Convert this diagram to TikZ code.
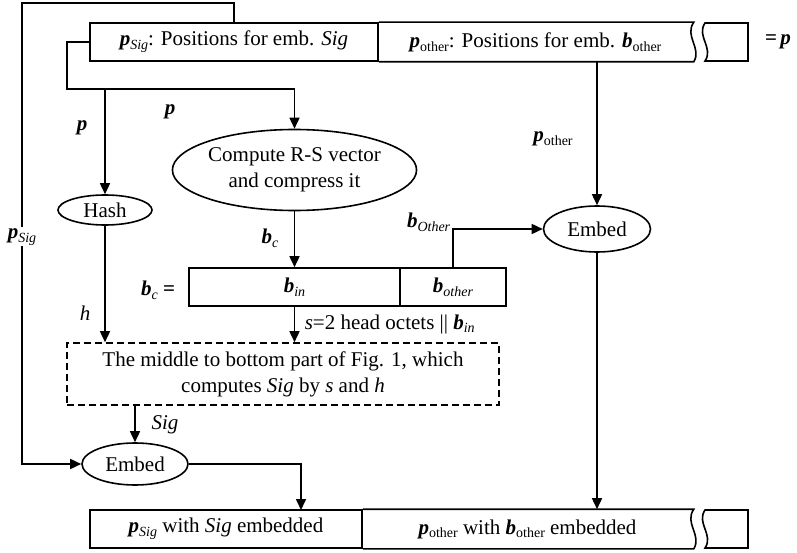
\documentclass[tikz,border=0pt]{standalone}
\usepackage{fontspec}
\setmainfont{Liberation Serif}
\usetikzlibrary{arrows.meta,shapes.geometric}

\newcommand\bp{\textbf{\textit{p}}}
\newcommand\bb{\textbf{\textit{b}}}
\newcommand\sub[1]{\raisebox{-0.4ex}{\fontsize{14}{14}\selectfont #1}}

\tikzset{
  cell/.style={draw, rectangle, minimum height=38pt, inner sep=0pt},
  proc/.style={draw, ellipse, inner sep=0pt, align=center},
  lbl/.style={inner sep=1pt},
  flow/.style={-{Triangle[length=11pt,width=10pt]}},
}

\begin{document}
\begin{tikzpicture}[x=1pt, y=-1pt, line width=1.6pt, font=\fontsize{21}{26}\selectfont]
\useasboundingbox (0,0) rectangle (797,553);

% top bar: positions p
\node[cell, minimum width=288pt] (psig) at (234,42) {\bp\sub{\textit{Sig}}: Positions for emb. \textit{Sig}};
\node[cell, draw=none, minimum width=315pt] (pother) at (535.5,42) {\bp\sub{other}: Positions for emb. \bb\sub{other}};
\draw (psig.north east) -- (pother.north east) .. controls (684,36) and (702,48) .. (pother.south east) -- (psig.south east);
\draw (705,23) -- (748,23) -- (748,61) -- (705,61) .. controls (714,48) and (696,36) .. cycle;
\node (eqp) at (778,42) {\textbf{=}\,\bp};

% processing steps
\node[proc, minimum width=94pt, minimum height=30pt] (hash) at (105,210) {Hash};
\node[proc, minimum width=226pt, minimum height=81pt] (compute) at (294.5,170) {Compute R-S vector\\and compress it};
\node[proc, minimum width=107pt, minimum height=46pt] (embedR) at (597,229) {Embed};

% compressed vector b_c
\node[cell, minimum width=211pt] (bin) at (294.5,287) {\bb\sub{\textit{in}}};
\node[cell, minimum width=106pt] (bother) at (453,287) {\bb\sub{\textit{other}}};
\node (bceq) at (158,290) {\bb\sub{\textit{c}} \textbf{=}};

% signature part
\node[draw, dash pattern=on 7pt off 4pt, minimum width=432pt, minimum height=62pt, align=center, inner sep=0pt] (task) at (283,374)
  {The middle to bottom part of Fig. 1, which\\computes \textit{Sig} by \textit{s} and \textit{h}};
\node[proc, minimum width=106pt, minimum height=42pt] (embedL) at (135,464) {Embed};

% bottom bar: result
\node[cell, minimum width=272pt] (psigb) at (226,529) {\bp\sub{\textit{Sig}} with \textit{Sig} embedded};
\node[cell, draw=none, minimum width=331pt] (potherb) at (527.5,529) {\bp\sub{other} with \bb\sub{other} embedded};
\draw (psigb.north east) -- (potherb.north east) .. controls (684,523) and (702,535) .. (potherb.south east) -- (psigb.south east);
\draw (705,510) -- (748,510) -- (748,548) -- (705,548) .. controls (714,535) and (696,523) .. cycle;

% connectors
\coordinate (loop) at (22,3);
\coordinate (split) at (67,89);
\coordinate (drop) at (301,510);
\draw[flow] (psig.north) |- (loop) -- (loop |- embedL)
  node[pos=0.507, fill=white, lbl] {\bp\sub{\textit{Sig}}} -- (embedL.west);
\draw[flow] (psig.west) -| (split) -| (compute.north);
\draw[flow] (hash.north |- split) -- (hash.north);
\draw[flow] (hash.south) -- (hash.south |- task.north);
\draw[flow] (compute.south) -- (bin.north);
\draw[flow] (bin.south) -- (bin.south |- task.north);
\draw[flow] (bother.north) |- (embedR.west);
\draw[flow] (embedR.north |- pother.south) -- (embedR.north);
\draw[flow] (embedR.south) -- (embedR.south |- potherb.north);
\draw[flow] (embedL.north |- task.south) -- (embedL.north);
\draw[flow] (embedL.east) -| (drop);

% labels
\node[lbl] (lp1) at (82,128) {\bp};
\node[lbl] (lp2) at (170,112) {\bp};
\node[lbl] (lbc) at (270,238) {\bb\sub{\textit{c}}};
\node[lbl] (lh) at (85,313) {\textit{h}};
\node[lbl, anchor=west] (ls) at (303,324) {\textit{s}=2 head octets || \bb\sub{\textit{in}}};
\node[lbl, anchor=south east] (lbo) at (452,233) {\bb\sub{\textit{Other}}};
\node[lbl] (lpo) at (553,139) {\bp\sub{other}};
\node[lbl] (lsig) at (165,425) {\textit{Sig}};
\end{tikzpicture}
\end{document}
